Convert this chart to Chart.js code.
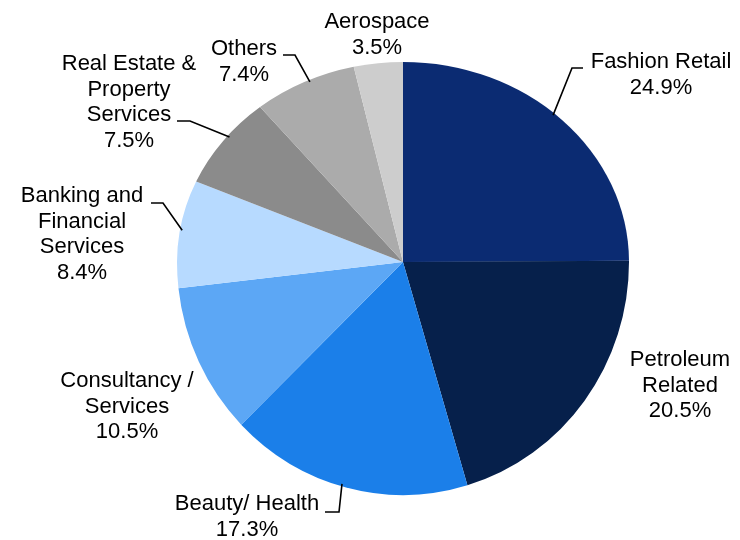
<!DOCTYPE html>
<html>
<head>
<meta charset="utf-8">
<script src="https://cdn.jsdelivr.net/npm/chart.js@4/dist/chart.umd.min.js"></script>
<style>
  body { margin: 0; background: #fff; }
  #wrap { width: 740px; height: 540px; position: relative; }
</style>
</head>
<body>
<div id="wrap"><canvas id="pie"></canvas></div>
<script>
// sector shares (%), clockwise from 12 o'clock
const categories = ['Fashion Retail', 'Petroleum Related', 'Beauty/ Health', 'Consultancy / Services',
    'Banking and Financial Services', 'Real Estate & Property Services', 'Others', 'Aerospace'];
const shares = [24.9, 20.5, 17.3, 10.5, 8.4, 7.5, 7.4, 3.5];
// how each category name is broken over lines
const nameLines = [
    ['Fashion Retail'],
    ['Petroleum', 'Related'],
    ['Beauty/ Health'],
    ['Consultancy /', 'Services'],
    ['Banking and', 'Financial', 'Services'],
    ['Real Estate &', 'Property', 'Services'],
    ['Others'],
    ['Aerospace']
];
const colors = ['#0b2b72', '#06204b', '#1b7fe9', '#5ca7f5', '#b7daff', '#8b8b8b', '#ababab', '#cdcdcd'];

// label spots: x = text centre, y = first baseline; hook = horizontal part of the leader
const placement = [
    { x: 661, y: 68, hook: [583, 572, 68], at: 0.47 },
    { x: 680, y: 366 },
    { x: 247, y: 510, hook: [325, 339, 512], at: 0.52 },
    { x: 127, y: 387 },
    { x: 82, y: 202, hook: [151, 163, 203], at: 0.52 },
    { x: 129, y: 70, hook: [177, 190, 121], at: 0.57 },
    { x: 244, y: 55, hook: [283, 295, 55], at: 0.55 },
    { x: 377, y: 28 }
];

// the pie is squashed above the centre and stretched a little below it
const topScale = 200 / 226;
const bottomScale = 233 / 226;
const lineH = 25.5;

const unevenPie = {
    id: 'unevenPie',
    beforeDatasetsDraw(chart) {
        const meta = chart.getDatasetMeta(0);
        const c = meta.data[0];
        const ctx = chart.ctx;
        [[true, topScale], [false, bottomScale]].forEach(([upper, s]) => {
            ctx.save();
            ctx.beginPath();
            if (upper) ctx.rect(0, 0, chart.width, c.y + 0.5);
            else ctx.rect(0, c.y - 0.5, chart.width, chart.height - c.y + 0.5);
            ctx.clip();
            ctx.translate(c.x, c.y);
            ctx.scale(1, s);
            ctx.translate(-c.x, -c.y);
            meta.data.forEach(a => a.draw(ctx));
            ctx.restore();
        });
        return false;
    }
};

const sliceLabels = {
    id: 'sliceLabels',
    afterDraw(chart) {
        const ctx = chart.ctx;
        const arcs = chart.getDatasetMeta(0).data;
        ctx.save();
        ctx.font = '22px Arial, "Liberation Sans", sans-serif';
        ctx.fillStyle = '#000';
        ctx.textAlign = 'center';
        ctx.textBaseline = 'alphabetic';
        arcs.forEach((arc, i) => {
            const p = placement[i];
            const lines = nameLines[i].concat([shares[i].toFixed(1) + '%']);
            lines.forEach((t, k) => ctx.fillText(t, p.x, p.y + k * lineH));
            if (p.hook) {
                const a = arc.startAngle + (arc.endAngle - arc.startAngle) * p.at;
                const r = arc.outerRadius * 0.99;
                const sy = Math.sin(a) < 0 ? topScale : bottomScale;
                const ex = arc.x + r * Math.cos(a);
                const ey = arc.y + r * sy * Math.sin(a);
                ctx.beginPath();
                ctx.moveTo(p.hook[0], p.hook[2]);
                ctx.lineTo(p.hook[1], p.hook[2]);
                ctx.lineTo(ex, ey);
                ctx.strokeStyle = '#000';
                ctx.lineWidth = 1.6;
                ctx.stroke();
            }
        });
        ctx.restore();
    }
};

const ctx = document.getElementById('pie');
new Chart(ctx, {
    type: 'pie',
    data: {
        labels: categories,
        datasets: [{
            data: shares,
            backgroundColor: colors,
            borderWidth: 0,
            hoverOffset: 0
        }]
    },
    options: {
        responsive: true,
        maintainAspectRatio: false,
        animation: false,
        events: [],
        layout: { padding: { left: 177, right: 111, top: 36, bottom: 52 } },
        plugins: {
            legend: { display: false },
            tooltip: { enabled: false }
        }
    },
    plugins: [unevenPie, sliceLabels]
});
</script>
</body>
</html>
